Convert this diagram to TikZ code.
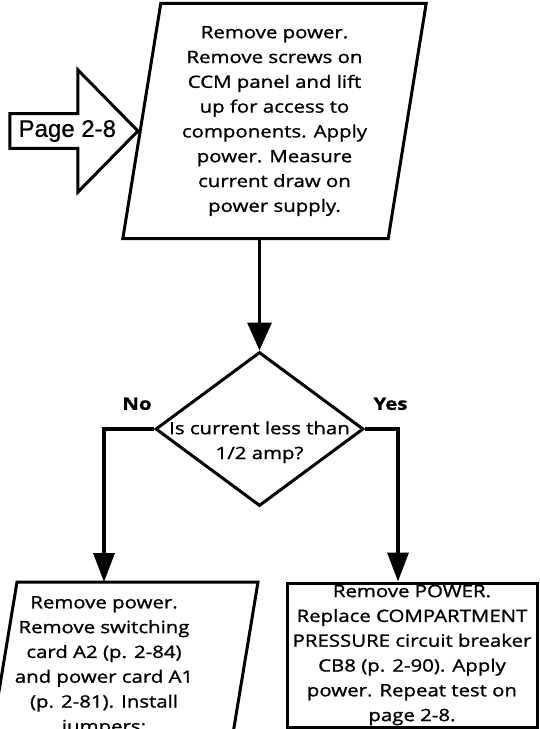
\documentclass[tikz,border=0pt]{standalone}
\usepackage{fontspec}
\setmainfont{Open Sans}[FakeStretch=1.2,FakeBold=1.2]
\newfontfamily\arrowfont{Liberation Sans}[FakeBold=0.8]
\usetikzlibrary{arrows.meta,calc,positioning,shapes.geometric,shapes.arrows}

\begin{document}
\begin{tikzpicture}[x=1pt,y=-1pt,
  >={Triangle[length=28pt,width=24pt]},
  outline/.style={draw,line width=3pt,line join=miter},
  flow/.style={line width=3.4pt,->},
  txt/.style={font=\fontsize{17}{24.8}\selectfont,align=center,inner sep=0pt},
  slantbox/.style={txt,minimum width=265pt,minimum height=235pt},
  decision/.style={diamond,draw,line width=3pt,minimum width=208pt,minimum height=154pt,
                   inner sep=0pt,font=\fontsize{17}{24.8}\selectfont},
  pagearrow/.style={single arrow,draw,line width=3pt,minimum height=128pt,minimum width=122pt,
                    single arrow head extend=31pt,single arrow tip angle=91,inner sep=0pt,
                    font=\arrowfont\fontsize{24}{26}\selectfont},
  endbox/.style={txt,draw,line width=3pt,minimum width=250pt,minimum height=144pt},
  answer/.style={font=\bfseries\fontsize{17}{20}\selectfont}
]
\useasboundingbox (0,0) rectangle (540,729);
\clip (0,0) rectangle (540,729);

% first step, entered from page 2-8
\node[slantbox] (pwr) at (274.5,121) {Remove power.\\Remove screws on\\CCM panel and lift\\up for access to\\components. Apply\\power. Measure\\current draw on\\power supply.};
\draw[outline] ([xshift=19pt]pwr.north west) -- ([xshift=19pt]pwr.north east)
  -- ([xshift=-19pt]pwr.south east) -- ([xshift=-19pt]pwr.south west) -- cycle;
\node[pagearrow,anchor=tip] (pg) at (140,131) {\hspace*{4pt}Page 2-8};

% test
\node[decision] (ask) at (259.5,429) {\makebox[0pt]{\raisebox{-17pt}[0pt][0pt]{\begin{tabular}{@{}c@{}}Is current less than\\1/2 amp?\end{tabular}}}};

% outcomes
\node[txt,anchor=north,inner ysep=14pt] (sw) at (104,582) {Remove power.\\Remove switching\\card A2 (p. 2-84)\\and power card A1\\(p. 2-81). Install\\jumpers:};
\draw[outline] ($(sw.north)+(-136.5,300)$) -- ($(sw.north)+(-87,0)$)
  -- ($(sw.north)+(154,0)$) -- ($(sw.north)+(104.5,300)$);
\node[endbox] (cb) at (412,655) {Remove POWER.\\Replace COMPARTMENT\\PRESSURE circuit breaker\\CB8 (p. 2-90). Apply\\power. Repeat test on\\page 2-8.};

% connectors
\draw[flow] (ask.north |- pwr.south) -- (ask.north);
\draw[flow,>={Triangle[length=29pt,width=21pt]}] (ask.west) -| (sw.north)
  node[answer,pos=0.25,above=14pt,xshift=8pt] {No};
\draw[flow,>={Triangle[length=29pt,width=21pt]}] (ask.east) -| ([xshift=-14pt]cb.north)
  node[answer,pos=0.25,above=14pt,xshift=9pt] {Yes};
\end{tikzpicture}
\end{document}
